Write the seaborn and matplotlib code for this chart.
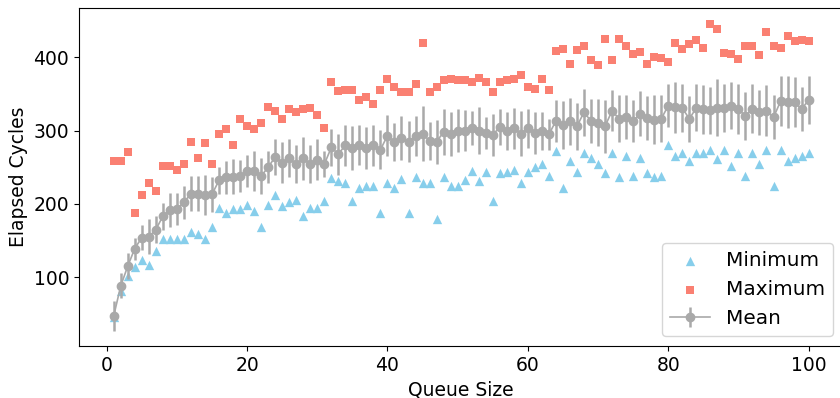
import numpy as np
import matplotlib
matplotlib.use('Agg')
import matplotlib.pyplot as plt
import seaborn as sns

# Queue sizes 1..100
queue_size = list(range(1, 101))

min_cycles = [46, 81, 101, 114, 124, 117, 135, 152, 152, 152,
              152, 162, 159, 152, 168, 195, 188, 193, 193, 199,
              190, 168, 198, 212, 197, 202, 205, 183, 195, 195,
              204, 235, 231, 228, 204, 221, 224, 224, 188, 229,
              221, 234, 188, 237, 229, 229, 180, 237, 224, 224,
              232, 245, 231, 243, 204, 242, 243, 246, 228, 244,
              250, 254, 238, 272, 221, 258, 243, 270, 263, 255,
              242, 269, 236, 266, 238, 262, 242, 236, 238, 280,
              266, 270, 259, 269, 270, 273, 261, 273, 252, 270,
              238, 270, 255, 273, 225, 273, 259, 262, 265, 269]

max_cycles = [258, 259, 271, 187, 212, 228, 217, 252, 252, 246,
              254, 285, 263, 283, 255, 296, 302, 281, 316, 306,
              302, 311, 332, 327, 316, 330, 325, 329, 331, 321,
              303, 366, 354, 356, 356, 342, 346, 336, 356, 370,
              360, 353, 353, 363, 419, 353, 359, 369, 371, 369,
              369, 367, 372, 366, 353, 366, 369, 371, 376, 360,
              357, 370, 356, 408, 412, 391, 410, 415, 396, 390,
              425, 396, 425, 416, 405, 407, 391, 401, 399, 394,
              420, 412, 418, 424, 413, 446, 438, 406, 404, 398,
              416, 416, 403, 434, 416, 413, 429, 422, 424, 422]

mean_cycles = [47, 88, 115, 139, 154, 155, 165, 183, 192, 193,
               202, 214, 214, 212, 213, 232, 236, 237, 238, 245,
               245, 238, 250, 264, 256, 262, 254, 262, 254, 260,
               254, 277, 268, 280, 276, 280, 276, 280, 274, 293,
               284, 290, 285, 293, 296, 286, 285, 298, 296, 300,
               300, 304, 300, 297, 294, 305, 300, 303, 296, 303,
               297, 300, 295, 313, 308, 313, 306, 325, 313, 311,
               306, 327, 316, 319, 313, 323, 317, 315, 316, 334,
               332, 331, 316, 331, 329, 328, 331, 331, 334, 329,
               320, 330, 325, 327, 318, 340, 339, 339, 329, 342]

std_cycles = [20, 17, 18, 15, 17, 24, 18, 18, 23, 22,
              23, 24, 24, 27, 24, 19, 23, 24, 22, 22,
              27, 25, 22, 25, 28, 26, 26, 29, 26, 28,
              18, 25, 28, 28, 30, 27, 29, 28, 27, 28,
              26, 30, 28, 27, 37, 26, 30, 31, 30, 29,
              28, 23, 32, 22, 28, 25, 26, 28, 31, 27,
              29, 26, 21, 29, 33, 32, 32, 32, 30, 32,
              36, 28, 32, 30, 29, 31, 30, 33, 32, 29,
              35, 33, 31, 32, 33, 32, 39, 33, 32, 34,
              33, 33, 31, 35, 30, 34, 35, 34, 30, 33]

fs = 13.5
fig = plt.figure(figsize=(8.4, 3.98), dpi=100)
ax = fig.add_axes([0.094, 0.1307, 0.910, 0.8485])

sns.scatterplot(x=queue_size, y=min_cycles, marker='^', color='skyblue',
                s=45, linewidth=0, label='Minimum', ax=ax)
sns.scatterplot(x=queue_size, y=max_cycles, marker='s', color='salmon',
                s=32, linewidth=0, label='Maximum', ax=ax)
ax.errorbar(queue_size, mean_cycles, yerr=std_cycles, color='darkgray',
            marker='o', markersize=6, linewidth=1.2, elinewidth=1.8,
            label='Mean')

ax.set_xlabel('Queue Size', fontsize=fs)
ax.set_ylabel('Elapsed Cycles', fontsize=fs)
ax.tick_params(labelsize=fs)
ax.set_yticks([100, 200, 300, 400])
ax.legend(loc='lower right', fontsize=14.4)

fig.savefig('out.png', dpi=100)
